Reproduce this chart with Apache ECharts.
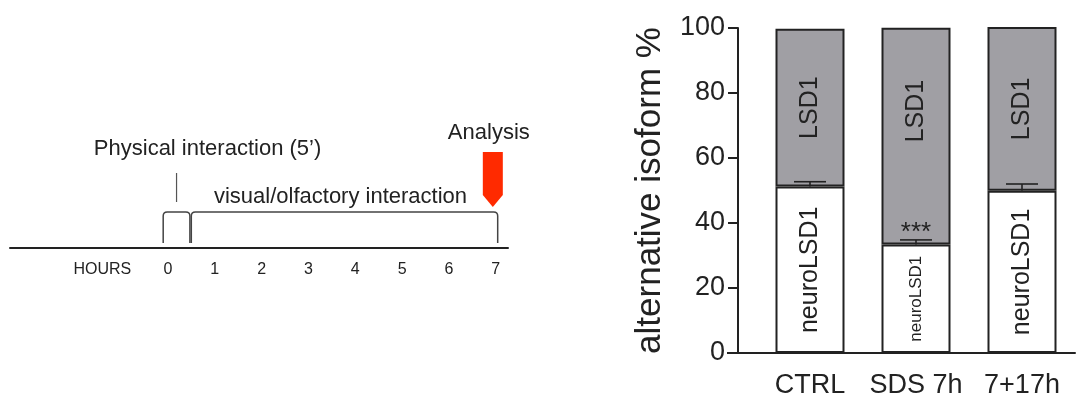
<!DOCTYPE html>
<html>
<head>
<meta charset="utf-8">
<script src="https://cdn.jsdelivr.net/npm/echarts@6/dist/echarts.min.js"></script>
<style>
html, body { margin: 0; padding: 0; background: #fff; }
#main { width: 1077px; height: 396px; }
</style>
</head>
<body>
<div id="main"></div>
<script>
// bar panel data
var groups = ['CTRL', 'SDS 7h', '7+17h'];
var neuroLSD1 = [51.2, 33.4, 49.9];
var lsd1 = [48.6, 66.7, 50.4];
var errTop = [52.7, 34.8, 52.0];
var signif = ['', '***', ''];
var yTicks = [0, 20, 40, 60, 80, 100];

// timeline panel data
var hourTicks = [0, 1, 2, 3, 4, 5, 6, 7];
var hoursLabelAt = -1.4;
var phases = [
    { name: 'Physical interaction (5\u2019)', start: -0.1, end: 0.47 },
    { name: 'visual/olfactory interaction', start: 0.5, end: 7.04 }
];
var analysisHour = 7;

var FONT = '"Liberation Sans", Arial, Helvetica, sans-serif';
var INK = '#222';

var myChart = echarts.init(document.getElementById('main'));

function renderPhase(params, api) {
    var a = api.coord([api.value(0), 0]);
    var b = api.coord([api.value(1), 0]);
    var x1 = a[0], x2 = b[0], base = a[1];
    var foot = base - 5, top = base - 36, r = 4;
    var path = 'M' + x1 + ' ' + foot + ' L' + x1 + ' ' + (top + r) +
        ' Q' + x1 + ' ' + top + ' ' + (x1 + r) + ' ' + top +
        ' L' + (x2 - r) + ' ' + top +
        ' Q' + x2 + ' ' + top + ' ' + x2 + ' ' + (top + r) +
        ' L' + x2 + ' ' + foot;
    var ph = phases[params.dataIndex];
    var mid = (x1 + x2) / 2;
    var children = [{
        type: 'path',
        shape: { pathData: path },
        style: { fill: null, stroke: '#444', lineWidth: 1.5 }
    }];
    if (params.dataIndex === 0) {
        children.push({
            type: 'line',
            shape: { x1: mid, y1: base - 75, x2: mid, y2: base - 46 },
            style: { stroke: '#555', lineWidth: 1.2 }
        });
        children.push({
            type: 'text', x: mid + 31, y: base - 99,
            style: { text: ph.name, fill: INK, font: '22px ' + FONT, align: 'center', verticalAlign: 'middle' }
        });
    } else {
        children.push({
            type: 'text', x: mid - 4, y: base - 51,
            style: { text: ph.name, fill: INK, font: '22px ' + FONT, align: 'center', verticalAlign: 'middle' }
        });
    }
    return { type: 'group', children: children };
}

function renderArrow(params, api) {
    var p = api.coord([api.value(0), 0]);
    var x = p[0] - 3, base = p[1];
    return {
        type: 'group',
        children: [{
            type: 'polygon',
            shape: { points: [[x - 10, base - 96], [x + 10, base - 96], [x + 10, base - 53], [x, base - 41], [x - 10, base - 53]] },
            style: { fill: '#ff2a00' }
        }, {
            type: 'text', x: x - 4, y: base - 115,
            style: { text: 'Analysis', fill: INK, font: '22px ' + FONT, align: 'center', verticalAlign: 'middle' }
        }]
    };
}

function renderError(params, api) {
    var lo = api.coord([api.value(0), api.value(1)]);
    var hi = api.coord([api.value(0), api.value(2)]);
    var half = 16;
    var st = { stroke: '#222', lineWidth: 1.6 };
    var children = [
        { type: 'line', shape: { x1: lo[0], y1: lo[1], x2: hi[0], y2: hi[1] }, style: st },
        { type: 'line', shape: { x1: hi[0] - half, y1: hi[1], x2: hi[0] + half, y2: hi[1] }, style: st }
    ];
    var s = signif[params.dataIndex];
    if (s) {
        children.push({
            type: 'text', x: hi[0], y: hi[1] + 6,
            style: { text: s, fill: INK, font: '26px ' + FONT, align: 'center', verticalAlign: 'bottom' }
        });
    }
    return { type: 'group', children: children };
}

var option = {
    animation: false,
    backgroundColor: '#fff',
    textStyle: { fontFamily: FONT },
    grid: [
        { left: 757, right: 2, top: 28, bottom: 43, outerBoundsMode: 'none' },
        { left: 10, width: 498, top: 100, bottom: 148, outerBoundsMode: 'none' }
    ],
    xAxis: [{
        type: 'category',
        gridIndex: 0,
        data: groups,
        axisLine: { lineStyle: { color: INK, width: 2 } },
        axisTick: { alignWithLabel: true, length: 12, lineStyle: { color: INK, width: 2 } },
        axisLabel: { color: INK, fontSize: 27, margin: 19, interval: 0 }
    }, {
        type: 'value',
        gridIndex: 1,
        min: -3.37,
        max: 7.26,
        splitLine: { show: false },
        axisLine: { onZero: false, lineStyle: { color: INK, width: 2 } },
        axisTick: { show: false },
        axisLabel: {
            color: INK, fontSize: 16, margin: 14,
            customValues: [hoursLabelAt].concat(hourTicks),
            formatter: function (v) { return v < 0 ? 'HOURS' : String(v); }
        }
    }],
    yAxis: [{
        type: 'value',
        gridIndex: 0,
        min: 0,
        max: 100,
        offset: 19,
        name: 'alternative isoform %',
        nameLocation: 'middle',
        nameGap: 70,
        nameTextStyle: { color: INK, fontSize: 35 },
        splitLine: { show: false },
        axisLine: { show: true, lineStyle: { color: INK, width: 2 } },
        axisTick: { show: true, length: 10, lineStyle: { color: INK, width: 2 }, customValues: yTicks },
        axisLabel: { color: INK, fontSize: 27, margin: 13, customValues: yTicks }
    }, {
        type: 'value',
        gridIndex: 1,
        min: 0,
        max: 1,
        show: false
    }],
    graphic: [{
        type: 'line',
        shape: { x1: 727, y1: 353, x2: 758, y2: 353 },
        style: { stroke: INK, lineWidth: 2 }
    }],
    series: [{
        name: 'neuroLSD1',
        type: 'bar',
        stack: 'iso',
        xAxisIndex: 0,
        yAxisIndex: 0,
        barWidth: 69,
        data: neuroLSD1.map(function (v, i) {
            return i === 1 ? { value: v, label: { fontSize: 17 } } : v;
        }),
        itemStyle: { color: '#fff', borderColor: '#222', borderWidth: 2 },
        label: { show: true, position: 'inside', rotate: 90, formatter: 'neuroLSD1', fontSize: 25, color: INK }
    }, {
        name: 'LSD1',
        type: 'bar',
        stack: 'iso',
        xAxisIndex: 0,
        yAxisIndex: 0,
        barWidth: 69,
        data: lsd1.map(function (v, i) {
            return i === 1 ? { value: v, label: { offset: [25, 0] } } : v;
        }),
        itemStyle: { color: '#a09fa4', borderColor: '#222', borderWidth: 2 },
        label: { show: true, position: 'inside', rotate: 90, formatter: 'LSD1', fontSize: 25, color: INK }
    }, {
        type: 'custom',
        xAxisIndex: 0,
        yAxisIndex: 0,
        z: 5,
        data: groups.map(function (g, i) { return [i, neuroLSD1[i], errTop[i]]; }),
        renderItem: renderError
    }, {
        type: 'custom',
        xAxisIndex: 1,
        yAxisIndex: 1,
        data: phases.map(function (p) { return [p.start, p.end]; }),
        renderItem: renderPhase
    }, {
        type: 'custom',
        xAxisIndex: 1,
        yAxisIndex: 1,
        data: [[analysisHour]],
        renderItem: renderArrow
    }]
};
myChart.setOption(option);
</script>
</body>
</html>
